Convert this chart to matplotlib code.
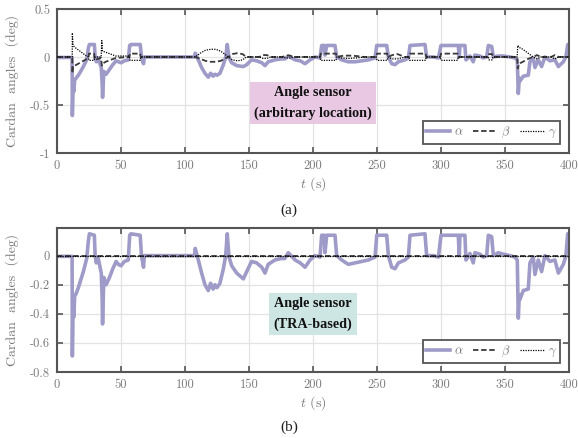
import matplotlib
matplotlib.use("Agg")
import matplotlib.pyplot as plt

# alpha waypoints (s, deg), shared time axis for both panels
t_alpha = [0, 11.8, 12, 12.6, 13.2, 13.8, 15, 16.7, 18.5, 20.6,
           23.2, 24.5, 25.3, 29.2, 29.8, 30.7, 32, 34.6, 35.3, 35.6,
           36.6, 38.4, 41, 43.6, 46.2, 48, 50, 52.7, 55.7, 56.8,
           57.8, 65, 66, 67.6, 68.2, 107.5, 108, 110.4, 113, 115.6,
           118.2, 120, 122, 123.4, 125, 127.3, 130, 131.8, 133, 134.4,
           136.5, 140.4, 145.6, 148.2, 152, 156, 160, 162.5, 165, 170.3,
           175, 178, 180.7, 186, 190, 193.8, 197.7, 201.6, 205.5, 206.8,
           208.9, 209.4, 210.7, 217.2, 218.5, 222.4, 227.6, 232.9, 238, 243.3,
           248.5, 249.8, 257.6, 258.9, 261.5, 264.1, 266.7, 271.9, 274.5, 275.8,
           287.5, 288.8, 294, 298, 300, 313.5, 314.3, 314.8, 318.7, 319.5,
           322.6, 325.2, 326.5, 330.4, 333, 335.7, 337, 339.6, 340.9, 344.8,
           348.7, 353.9, 357.8, 359.6, 360.4, 361.2, 361.7, 364.3, 368.2, 369.5,
           372.1, 373.4, 376, 378.6, 381.2, 385.1, 389, 391.7, 395.6, 397.6,
           399, 400]

alpha_b = [-0.005, -0.005, -0.69, -0.30, -0.42, -0.28, -0.26, -0.22, -0.17, -0.11,
           -0.02, 0.10, 0.15, 0.14, 0.0, -0.05, -0.01, -0.12, -0.30, -0.47,
           -0.15, -0.20, -0.15, -0.09, -0.04, -0.06, -0.07, -0.04, -0.03, 0.14,
           0.15, 0.14, 0.0, -0.08, 0.0, 0.0, 0.05, -0.03, -0.12, -0.20,
           -0.24, -0.19, -0.23, -0.20, -0.22, -0.19, -0.09, 0.0, 0.15, -0.01,
           -0.07, -0.12, -0.16, -0.11, -0.04, -0.05, -0.08, -0.12, -0.06, -0.03,
           -0.02, -0.02, 0.02, -0.03, -0.05, -0.08, -0.03, 0.0, -0.01, 0.14,
           0.14, 0.02, 0.14, 0.14, 0.0, -0.03, -0.06, -0.05, -0.04, -0.03,
           -0.01, 0.14, 0.14, 0.0, -0.08, -0.09, -0.05, -0.03, -0.01, 0.14,
           0.15, 0.0, 0.0, -0.01, 0.14, 0.14, 0.0, 0.14, 0.14, -0.03,
           0.015, -0.05, 0.02, 0.01, -0.01, 0.0, 0.14, 0.13, 0.0, 0.02,
           0.01, 0.0, -0.01, -0.03, -0.43, -0.27, -0.30, -0.24, -0.23, -0.05,
           -0.01, -0.13, -0.03, -0.11, 0.0, -0.04, -0.03, -0.12, -0.06, 0.0,
           0.15, 0.15]

alpha_a = [-0.005, -0.005, -0.61, -0.27, -0.36, -0.24, -0.22, -0.19, -0.15, -0.10,
           -0.03, 0.09, 0.13, 0.13, 0.0, -0.05, -0.01, -0.11, -0.28, -0.42,
           -0.15, -0.18, -0.13, -0.08, -0.04, -0.05, -0.06, -0.04, -0.03, 0.12,
           0.13, 0.13, 0.0, -0.07, 0.0, 0.0, 0.04, -0.03, -0.11, -0.17,
           -0.21, -0.17, -0.20, -0.18, -0.19, -0.17, -0.08, 0.0, 0.13, -0.01,
           -0.06, -0.09, -0.10, -0.08, -0.03, -0.04, -0.06, -0.09, -0.05, -0.03,
           -0.02, -0.02, 0.01, -0.03, -0.04, -0.07, -0.03, 0.0, -0.01, 0.12,
           0.12, 0.02, 0.12, 0.12, 0.0, -0.03, -0.05, -0.05, -0.04, -0.03,
           -0.01, 0.12, 0.12, 0.0, -0.07, -0.08, -0.05, -0.03, -0.01, 0.12,
           0.13, 0.0, 0.0, -0.01, 0.12, 0.12, 0.0, 0.12, 0.12, -0.03,
           0.01, -0.05, 0.02, 0.01, -0.01, 0.0, 0.12, 0.11, 0.0, 0.01,
           0.01, 0.0, -0.01, -0.03, -0.38, -0.22, -0.25, -0.20, -0.19, -0.05,
           -0.01, -0.11, -0.03, -0.10, 0.0, -0.04, -0.03, -0.10, -0.05, 0.0,
           0.13, 0.13]

# beta / gamma waypoints for panel (a)
t_bg = [0, 11.9, 12, 12.5, 14, 18, 22, 24.5, 25, 29,
        29.5, 34.5, 35, 35.5, 38, 42, 46, 56.5, 57, 65,
        65.5, 70, 108, 112, 116, 120, 124, 128, 132, 134,
        137, 141, 145, 148, 158, 161, 164, 167, 176, 179,
        182, 185, 205.5, 206, 218, 218.5, 222, 228, 234, 240,
        249.5, 250, 258, 258.5, 262, 266, 272, 275, 275.5, 288,
        288.5, 299.5, 300, 313, 313.5, 337, 337.5, 340, 340.5, 359.5,
        360, 361, 364, 368, 372, 375, 378, 386, 389, 392,
        400]

beta_a = [0, 0, -0.17, -0.10, -0.09, -0.06, -0.03, -0.01, 0.035, 0.035,
          -0.03, -0.01, -0.09, -0.07, -0.05, -0.03, -0.01, 0, 0.035, 0.035,
          0, 0, 0, -0.02, -0.04, -0.05, -0.05, -0.04, -0.01, 0,
          0.03, 0.04, 0.03, 0, 0, 0.02, 0.02, 0, 0, 0.015,
          0.015, 0, 0, 0.035, 0.035, 0, 0.01, 0.015, 0.01, 0,
          0, 0.035, 0.035, 0, 0.02, 0.03, 0, 0, 0.035, 0.035,
          0, 0, 0.035, 0.035, 0, 0, 0.03, 0.03, 0, 0,
          -0.12, -0.07, -0.05, -0.02, 0, 0.02, 0, 0, 0.02, 0,
          0]

gamma_a = [0, 0, 0.25, 0.12, 0.10, 0.06, 0.02, 0.0, -0.035, -0.035,
           0.0, 0.0, 0.17, 0.06, 0.05, 0.03, 0.01, 0.01, -0.035, -0.035,
           0, 0, 0, 0.04, 0.07, 0.08, 0.08, 0.06, 0.02, 0,
           -0.03, -0.04, -0.03, 0, 0, -0.015, -0.015, 0, 0, -0.01,
           -0.01, 0, 0, -0.035, -0.035, 0, -0.01, -0.015, -0.01, 0,
           0, -0.035, -0.035, 0, -0.02, -0.02, 0, 0, -0.035, -0.035,
           0, 0, -0.035, -0.035, 0, 0, -0.03, -0.03, 0, 0,
           0.12, 0.10, 0.08, 0.04, 0, -0.02, 0, 0, -0.02, 0,
           0]

# panel (b): beta and gamma stay on zero
t_flat = [0, 400]
beta_b = [0, 0]
gamma_b = [0, 0]

x_ticks = [0, 50, 100, 150, 200, 250, 300, 350, 400]
y_ticks_a = [-1, -0.5, 0, 0.5]
y_labels_a = ["-1", "-0.5", "0", "0.5"]
y_ticks_b = [-0.8, -0.6, -0.4, -0.2, 0]
y_labels_b = ["-0.8", "-0.6", "-0.4", "-0.2", "0"]

ALPHA_C = "#9f9bc8"
BETA_C = "#3a3a3a"
GAMMA_C = "#000000"
SPINE_C = "#555555"
TEXT_C = "#7a7a7a"

plt.rcParams["mathtext.fontset"] = "cm"
plt.rcParams["font.family"] = ["cmr10", "DejaVu Serif"]
plt.rcParams["axes.unicode_minus"] = False

fig = plt.figure(figsize=(5.78, 4.38), dpi=100)
ax_a = fig.add_axes([0.0986, 0.6507, 0.8858, 0.3288])
ax_b = fig.add_axes([0.0986, 0.1507, 0.8858, 0.3288])


def style_axes(ax, yticks, ylabels, ylim):
    ax.set_xlim(0, 400)
    ax.set_ylim(*ylim)
    ax.set_xticks(x_ticks)
    ax.set_xticklabels([str(v) for v in x_ticks])
    ax.set_yticks(yticks)
    ax.set_yticklabels(ylabels)
    ax.grid(True, color="#e3e3e3", linewidth=0.9)
    ax.set_axisbelow(True)
    ax.tick_params(direction="in", length=4, width=1.2, color=SPINE_C,
                   top=True, right=True, labelsize=9, labelcolor=TEXT_C, pad=5)
    for sp in ax.spines.values():
        sp.set_color(SPINE_C)
        sp.set_linewidth(1.5)
    ax.set_ylabel("Cardan  angles  (deg)", fontsize=10, color=TEXT_C)
    ax.yaxis.set_label_coords(-0.075, 0.5)
    ax.set_xlabel("$t$ (s)", fontsize=10, color=TEXT_C, labelpad=2)


def add_legend(ax):
    leg = ax.legend(loc="lower right", ncol=3, fontsize=9, frameon=True,
                    fancybox=False, framealpha=1, edgecolor=SPINE_C,
                    handlelength=1.9, handletextpad=0.3, columnspacing=0.8,
                    borderpad=0.3, borderaxespad=0.7, labelcolor=TEXT_C)
    leg.get_frame().set_linewidth(1.3)


# panel (a)
ax_a.plot(t_alpha, alpha_a, color=ALPHA_C, lw=2.6, label=r"$\alpha$", zorder=2)
ax_a.plot(t_bg, beta_a, color=BETA_C, lw=1.3, ls=(0, (3, 1.5)), label=r"$\beta$", zorder=3)
ax_a.plot(t_bg, gamma_a, color=GAMMA_C, lw=0.9, ls=(0, (1, 1)), label=r"$\gamma$", zorder=4)
style_axes(ax_a, y_ticks_a, y_labels_a, (-1, 0.5))
add_legend(ax_a)
ax_a.text(200, -0.48, "Angle sensor\n(arbitrary location)", ha="center", va="center",
          fontsize=10.2, fontweight="bold", family="Liberation Serif", color="#111111",
          linespacing=1.75,
          bbox=dict(boxstyle="square,pad=0.3", facecolor="#e8c8e2", edgecolor="none"))

# panel (b)
ax_b.plot(t_alpha, alpha_b, color=ALPHA_C, lw=2.6, label=r"$\alpha$", zorder=2)
ax_b.plot(t_flat, beta_b, color=BETA_C, lw=1.3, ls=(0, (3, 1.5)), label=r"$\beta$", zorder=3)
ax_b.plot(t_flat, gamma_b, color=GAMMA_C, lw=0.9, ls=(0, (1, 1)), label=r"$\gamma$", zorder=4)
style_axes(ax_b, y_ticks_b, y_labels_b, (-0.8, 0.19))
add_legend(ax_b)
ax_b.text(200, -0.40, "Angle sensor\n(TRA-based)", ha="center", va="center",
          fontsize=10.2, fontweight="bold", family="Liberation Serif", color="#111111",
          linespacing=1.75,
          bbox=dict(boxstyle="square,pad=0.3", facecolor="#cde6e3", edgecolor="none"))

fig.text(0.5, 0.5205, "(a)", ha="center", va="center", fontsize=11,
         family="Liberation Serif", color="#222222")
fig.text(0.5, 0.0251, "(b)", ha="center", va="center", fontsize=11,
         family="Liberation Serif", color="#222222")

fig.savefig("out.png", dpi=100)
